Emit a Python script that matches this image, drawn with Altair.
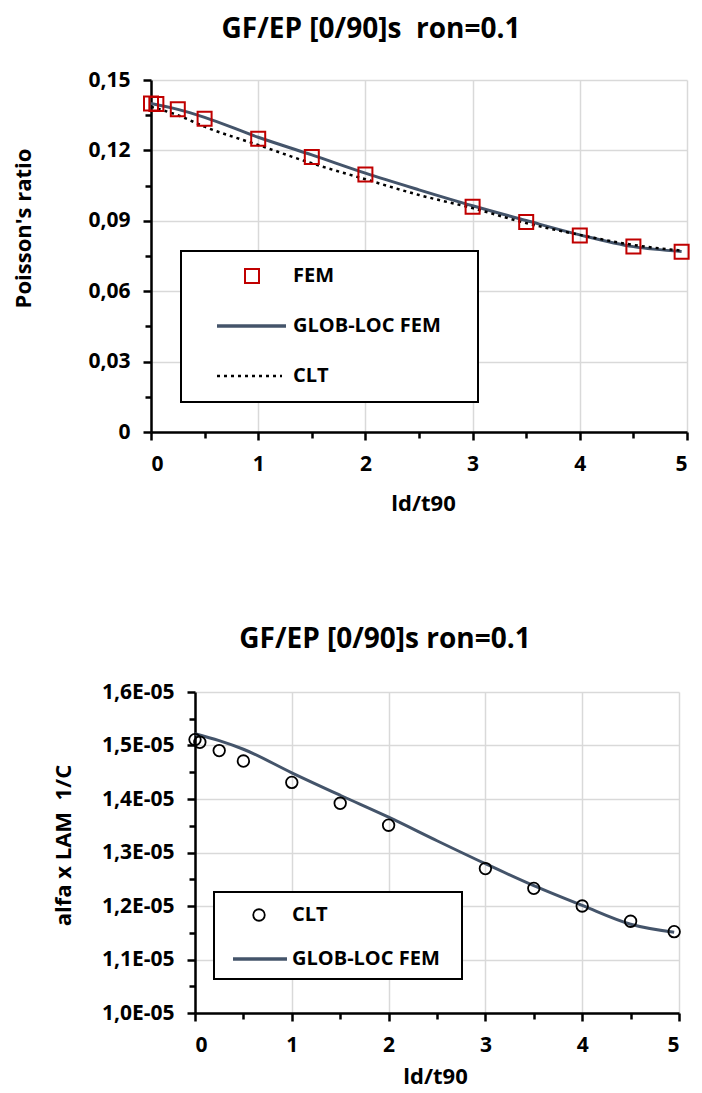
import altair as alt
import pandas as pd

FONT = "Open Sans"

# ---------------- data: top chart (Poisson's ratio) ----------------
top_title = "GF/EP [0/90]s\u00a0 ron=0.1"
fem_x = [0, 0.05, 0.25, 0.5, 1, 1.5, 2, 3, 3.5, 4, 4.5, 4.95]
fem_nu = [0.1400, 0.1398, 0.1375, 0.1335, 0.1250, 0.1172, 0.1097, 0.0960, 0.0895, 0.0837, 0.0790, 0.0768]
glob_x = [0, 0.25, 0.5, 1, 1.5, 2, 2.5, 3, 3.5, 4, 4.5, 4.95]
glob_nu = [0.1400, 0.1375, 0.1341, 0.1256, 0.1181, 0.1103, 0.1032, 0.0964, 0.0901, 0.0840, 0.0790, 0.0769]
clt_x = [0, 0.25, 0.5, 1, 1.5, 2, 2.5, 3, 3.5, 4, 4.5, 4.95]
clt_nu = [0.1386, 0.1350, 0.1301, 0.1223, 0.1145, 0.1077, 0.1010, 0.0954, 0.0890, 0.0840, 0.0797, 0.0773]
top_x_ticks = [0, 1, 2, 3, 4, 5]
top_x_minor = [0.5, 1.5, 2.5, 3.5, 4.5]
top_y_ticks = [0, 0.03, 0.06, 0.09, 0.12, 0.15]
top_y_minor = [0.015, 0.045, 0.075, 0.105, 0.135]
top_legend = ["FEM", "GLOB-LOC FEM", "CLT"]

# ---------------- data: bottom chart (alfa x LAM) ----------------
bot_title = "GF/EP [0/90]s ron=0.1"
clt2_x = [0, 0.05, 0.25, 0.5, 1, 1.5, 2, 3, 3.5, 4, 4.5, 4.95]
clt2_a = [1.511e-5, 1.506e-5, 1.4905e-5, 1.471e-5, 1.431e-5, 1.392e-5, 1.351e-5,
          1.270e-5, 1.233e-5, 1.200e-5, 1.1715e-5, 1.152e-5]
glob2_x = [0, 0.25, 0.5, 1, 1.5, 2, 2.5, 3, 3.5, 4, 4.5, 4.95]
glob2_a = [1.522e-5, 1.509e-5, 1.493e-5, 1.449e-5, 1.407e-5, 1.366e-5, 1.322e-5,
           1.279e-5, 1.238e-5, 1.201e-5, 1.166e-5, 1.151e-5]
bot_x_ticks = [0, 1, 2, 3, 4, 5]
bot_x_minor = [0.5, 1.5, 2.5, 3.5, 4.5]
bot_y_ticks = [1.0e-5, 1.1e-5, 1.2e-5, 1.3e-5, 1.4e-5, 1.5e-5, 1.6e-5]
bot_y_minor = [1.05e-5, 1.15e-5, 1.25e-5, 1.35e-5, 1.45e-5, 1.55e-5]
bot_legend = ["CLT", "GLOB-LOC FEM"]

LINE_COLOR = "#44546a"
FEM_COLOR = "#c00000"


def one(label):
    return pd.DataFrame({"t": [label]})


def ltext(label, x, y, size=20, align="left"):
    return alt.Chart(one(label)).mark_text(
        align=align, baseline="middle", font=FONT, fontSize=size,
        fontWeight="bold", color="black"
    ).encode(text="t:N", x=alt.value(x), y=alt.value(y))


def spacer(x, y, y2):
    return alt.Chart(one(0)).mark_rect(opacity=0).encode(
        x=alt.value(x), x2=alt.value(x + 1), y=alt.value(y), y2=alt.value(y2))


def minor_axis(values, orient, size=6, offset=0):
    return alt.Axis(values=values, labels=False, grid=False, domain=False,
                    ticks=True, tickSize=size, title=None, orient=orient, offset=offset)


# ======================= TOP CHART =======================
TW, TH = 536, 352
xs1 = alt.Scale(domain=[0, 5], nice=False, zero=False)
ys1 = alt.Scale(domain=[0, 0.15], nice=False, zero=False)

df_fem = pd.DataFrame({"x": fem_x, "v": fem_nu})
df_glob = pd.DataFrame({"x": glob_x, "v": glob_nu})
df_clt = pd.DataFrame({"x": clt_x, "v": clt_nu})

x_axis1 = alt.Axis(values=top_x_ticks, format="d", title="ld/t90", grid=True,
                   orient="bottom", titleX=272, titleY=71, titleBaseline="middle")
y_axis1 = alt.Axis(values=top_y_ticks, grid=True, orient="left",
                   labelExpr="datum.value == 0 ? '0' : replace(format(datum.value, '.2f'), '.', ',')",
                   title="Poisson's ratio", titleX=-128, titleY=148,
                   titleAngle=270, titleBaseline="middle", titleAlign="center")

glob_line = alt.Chart(df_glob).mark_line(
    color=LINE_COLOR, strokeWidth=3, interpolate="monotone"
).encode(x=alt.X("x:Q", scale=xs1, axis=x_axis1),
         y=alt.Y("v:Q", scale=ys1, axis=y_axis1))

clt_line = alt.Chart(df_clt).mark_line(
    color="black", strokeWidth=2.5, strokeDash=[3, 4], interpolate="monotone"
).encode(x=alt.X("x:Q", scale=xs1, axis=None),
         y=alt.Y("v:Q", scale=ys1, axis=None))

fem_pts = alt.Chart(df_fem).mark_point(
    shape="square", filled=False, size=196, strokeWidth=2, color=FEM_COLOR, opacity=1
).encode(x=alt.X("x:Q", scale=xs1, axis=None),
         y=alt.Y("v:Q", scale=ys1, axis=None))

minor1 = alt.Chart(df_fem).mark_point(opacity=0).encode(
    x=alt.X("x:Q", scale=xs1, axis=minor_axis(top_x_minor, "bottom")),
    y=alt.Y("v:Q", scale=ys1, axis=minor_axis(top_y_minor, "left")))

leg1_box = alt.Chart(one(0)).mark_rect(fill="white", stroke="black", strokeWidth=2).encode(
    x=alt.value(30), x2=alt.value(327), y=alt.value(171), y2=alt.value(322))
leg1_sq = alt.Chart(one(top_legend[0])).mark_point(
    shape="square", filled=False, size=196, strokeWidth=2, color=FEM_COLOR, opacity=1
).encode(x=alt.value(101), y=alt.value(196))
leg1_line = alt.Chart(one(top_legend[1])).mark_rule(color=LINE_COLOR, strokeWidth=3.5).encode(
    x=alt.value(66), x2=alt.value(135), y=alt.value(246))
leg1_dot = alt.Chart(one(top_legend[2])).mark_rule(color="black", strokeWidth=2.5, strokeDash=[3, 4]).encode(
    x=alt.value(66), x2=alt.value(131), y=alt.value(296))

top = alt.layer(
    glob_line, clt_line, fem_pts, minor1, leg1_box, leg1_sq,
    ltext(top_legend[0], 142, 196), leg1_line, ltext(top_legend[1], 142, 246),
    leg1_dot, ltext(top_legend[2], 142, 296),
    ltext(top_title, 220, -50, size=28, align="center"),
    spacer(-143, -72, 440)
).resolve_axis(x="independent", y="independent").properties(width=TW, height=TH)

# ======================= BOTTOM CHART =======================
# plot area shares the top chart's left edge; the data range starts 44 px to the right
BX0, BW, BH = 44, 484, 321
xs2 = alt.Scale(domain=[0, 5], nice=False, zero=False, range=[BX0, BX0 + BW])
ys2 = alt.Scale(domain=[1.0e-5, 1.6e-5], nice=False, zero=False)

df_clt2 = pd.DataFrame({"x": clt2_x, "v": clt2_a})
df_glob2 = pd.DataFrame({"x": glob2_x, "v": glob2_a})

x_axis2 = alt.Axis(values=bot_x_ticks, format="d", title="ld/t90", grid=True,
                   orient="bottom", titleX=BX0 + 240, titleY=63, titleBaseline="middle")
y_axis2 = alt.Axis(values=bot_y_ticks, grid=True, orient="left", offset=-BX0,
                   labelExpr="replace(format(datum.value * 100000, '.1f'), '.', ',') + 'E-05'",
                   title="alfa x LAM\u00a0 1/C", titleX=-132, titleY=153,
                   titleAngle=270, titleBaseline="middle", titleAlign="center")

glob2_line = alt.Chart(df_glob2).mark_line(
    color=LINE_COLOR, strokeWidth=3, interpolate="monotone"
).encode(x=alt.X("x:Q", scale=xs2, axis=x_axis2),
         y=alt.Y("v:Q", scale=ys2, axis=y_axis2))

clt2_pts = alt.Chart(df_clt2).mark_point(
    shape="circle", filled=False, size=133, strokeWidth=1.8, color="black", opacity=1
).encode(x=alt.X("x:Q", scale=xs2, axis=None),
         y=alt.Y("v:Q", scale=ys2, axis=None))

minor2 = alt.Chart(df_clt2).mark_point(opacity=0).encode(
    x=alt.X("x:Q", scale=xs2, axis=minor_axis(bot_x_minor, "bottom")),
    y=alt.Y("v:Q", scale=ys2, axis=minor_axis(bot_y_minor, "left", offset=-BX0)))

leg2_box = alt.Chart(one(0)).mark_rect(fill="white", stroke="black", strokeWidth=2).encode(
    x=alt.value(BX0 + 19), x2=alt.value(BX0 + 267), y=alt.value(200), y2=alt.value(287))
leg2_circ = alt.Chart(one(bot_legend[0])).mark_point(
    shape="circle", filled=False, size=133, strokeWidth=1.8, color="black", opacity=1
).encode(x=alt.value(BX0 + 64), y=alt.value(223))
leg2_line = alt.Chart(one(bot_legend[1])).mark_rule(color=LINE_COLOR, strokeWidth=3.5).encode(
    x=alt.value(BX0 + 38), x2=alt.value(BX0 + 92), y=alt.value(267))

bottom = alt.layer(
    glob2_line, clt2_pts, minor2, leg2_box, leg2_circ,
    ltext(bot_legend[0], BX0 + 97, 223), leg2_line, ltext(bot_legend[1], BX0 + 97, 267),
    ltext(bot_title, BX0 + 190, -52, size=28, align="center"),
    spacer(BX0, -172, BH + 80)
).resolve_axis(x="independent", y="independent").properties(width=BX0 + BW, height=BH)

chart = alt.vconcat(top, bottom, spacing=0).properties(
    padding={"left": 0, "top": 0, "right": 0, "bottom": 0}
).configure_view(stroke=None).configure_axis(
    domainColor="black", domainWidth=2.5,
    tickColor="black", tickWidth=2.5, tickSize=8,
    gridColor="#d9d9d9", gridWidth=1.5,
    labelFont=FONT, labelFontWeight="bold", labelFontSize=21, labelColor="black",
    labelPadding=13,
    titleFont=FONT, titleFontWeight="bold", titleFontSize=22, titleColor="black",
)

chart.save("out.html", embed_options={"renderer": "svg", "actions": False})
